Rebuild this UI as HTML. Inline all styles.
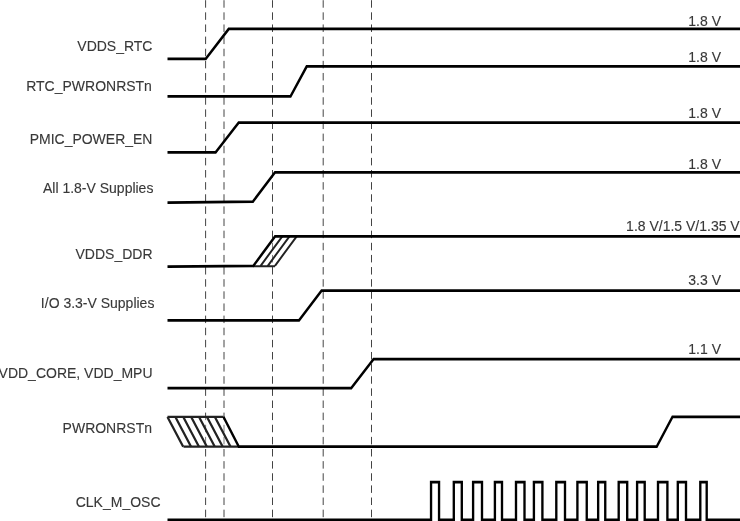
<!DOCTYPE html>
<html><head><meta charset="utf-8"><title>Power-up sequencing</title>
<style>
html,body{margin:0;padding:0;background:#fff;overflow:hidden}
svg{display:block}
text{font-family:"Liberation Sans",Arial,sans-serif;font-size:14px;fill:#383838;stroke:#383838;stroke-width:.12px}
.w{fill:none;stroke:#000;stroke-width:2.35;stroke-linejoin:miter;stroke-linecap:butt}
.h{fill:none;stroke:#222;stroke-width:1.95}
.d{stroke:#444;stroke-width:1;stroke-dasharray:7.5 4.63}
.f{fill:#fff;fill-opacity:.3;stroke:none}
</style></head><body>
<svg width="740" height="521" viewBox="0 0 740 521">
<rect width="740" height="521" fill="#fff"/>
<g class="d">
<line x1="205.6" y1="0.2" x2="205.6" y2="519"/>
<line x1="224.0" y1="0.2" x2="224.0" y2="519"/>
<line x1="272.5" y1="0.2" x2="272.5" y2="519"/>
<line x1="323.2" y1="0.2" x2="323.2" y2="519"/>
<line x1="371.5" y1="0.2" x2="371.5" y2="519"/>
</g>
<polygon class="f" points="253.4,265.8 275.1,236.3 296.7,236.3 275.0,265.8"/>
<polygon class="f" points="167.5,416.9 223.5,416.9 238.8,446.7 183.5,446.7"/>
<g text-anchor="end" transform="scale(1,1.05)">
<text x="152.5" y="48.29">VDDS_RTC</text>
<text x="151.9" y="86.57">RTC_PWRONRSTn</text>
<text x="152.5" y="136.76">PMIC_POWER_EN</text>
<text x="153.4" y="183.81">All 1.8-V Supplies</text>
<text x="152.5" y="246.38">VDDS_DDR</text>
<text x="154.4" y="293.81">I/O 3.3-V Supplies</text>
<text x="152.5" y="360.00">VDD_CORE, VDD_MPU</text>
<text x="152.0" y="412.38">PWRONRSTn</text>
<text x="160.5" y="482.67">CLK_M_OSC</text>
<text x="721" y="24.67">1.8 V</text>
<text x="721" y="59.52">1.8 V</text>
<text x="721" y="112.10">1.8 V</text>
<text x="721" y="160.95">1.8 V</text>
<text x="739.7" y="219.71">1.8 V/1.5 V/1.35 V</text>
<text x="721" y="271.71">3.3 V</text>
<text x="721" y="336.67">1.1 V</text>
</g>
<g class="h">
<path d="M260.60,265.8 L282.30,236.3 M267.80,265.8 L289.50,236.3 M275.00,265.8 L296.70,236.3 M253.40,266.2 L275.00,266.2"/>
<path d="M167.50,416.9 L183.20,446.7 M175.40,416.9 L191.10,446.7 M183.30,416.9 L199.00,446.7 M191.20,416.9 L206.90,446.7 M199.10,416.9 L214.80,446.7 M207.00,416.9 L222.70,446.7 M214.90,416.9 L230.60,446.7" stroke-width="2.25"/>
<path d="M167.5,416.9 L223.5,416.9 M183.5,446.7 L238.8,446.7" stroke-width="2.2"/>
</g>
<g class="w" transform="scale(1,1.17)">
<polyline points="167.50,50.299 205.70,50.299 228.70,24.786 745.00,24.786"/>
<polyline points="167.50,82.393 290.50,82.393 306.70,56.752 745.00,56.752"/>
<polyline points="167.50,130.256 215.60,130.256 238.70,104.786 745.00,104.786"/>
<polyline points="167.50,173.162 252.90,172.308 275.00,147.350 745.00,147.350"/>
<polyline points="167.50,227.821 253.40,227.179 275.10,201.966 745.00,201.966"/>
<polyline points="167.50,273.761 299.00,273.761 321.60,248.462 745.00,248.462"/>
<polyline points="167.50,331.795 351.20,331.795 373.60,306.838 745.00,306.838"/>
<polyline points="223.50,356.325 238.80,381.795 656.70,381.795 672.50,356.325 745.00,356.325"/>
<polyline points="167.50,444.316 431.05,444.316 431.05,411.966 439.05,411.966 439.05,444.316 453.80,444.316 453.80,411.966 461.80,411.966 461.80,444.316 473.10,444.316 473.10,411.966 482.00,411.966 482.00,444.316 494.90,444.316 494.90,411.966 502.00,411.966 502.00,444.316 516.00,444.316 516.00,411.966 524.50,411.966 524.50,444.316 533.90,444.316 533.90,411.966 542.40,411.966 542.40,444.316 556.30,444.316 556.30,411.966 565.00,411.966 565.00,444.316 577.40,444.316 577.40,411.966 586.75,411.966 586.75,444.316 598.15,444.316 598.15,411.966 605.25,411.966 605.25,444.316 618.70,444.316 618.70,411.966 627.20,411.966 627.20,444.316 637.10,444.316 637.10,411.966 644.70,411.966 644.70,444.316 658.00,444.316 658.00,411.966 667.40,411.966 667.40,444.316 677.80,444.316 677.80,411.966 686.00,411.966 686.00,444.316 700.30,444.316 700.30,411.966 706.70,411.966 706.70,444.316 745.00,444.316"/>
</g>
</svg>
</body></html>
